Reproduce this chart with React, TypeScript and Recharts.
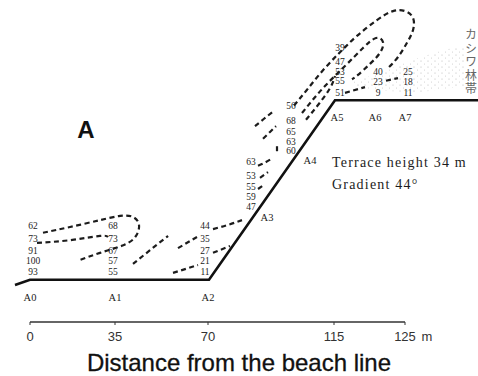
import { ComposedChart, Line, Scatter, Area, XAxis, YAxis, ReferenceLine, ReferenceDot } from 'recharts';

// x is the position along the drawing (the figure is not to scale), h is height in metres
const profileX = [15, 30, 209, 335, 478];
const profileH = [-1, 0, 0, 34, 34];

const distancePos = [30, 115, 208, 334, 405];
const distanceLabels = ['0', '35', '70', '115', '125'];

const stationNames = ['A0', 'A1', 'A2', 'A3', 'A4', 'A5', 'A6', 'A7'];
const stationX = [30, 115, 208, 267, 310, 337, 375, 405];
const stationH = [-3.3, -3.3, -3.3, 11.9, 22.7, 30.8, 30.8, 30.8];

// counts written beside each station, top to bottom
const countX = [33, 113, 205, 251, 291, 340, 378, 408];
const countsA0 = [62, 73, 91, 100, 93];
const countsA1 = [68, 73, 67, 57, 55];
const countsA2 = [44, 35, 27, 21, 11];
const countsA3 = [63, 53, 55, 59, 47];
const countsA4 = [56, 68, 65, 63, 60];
const countsA5 = [39, 47, 53, 55, 51];
const countsA6 = [40, 23, 9];
const countsA7 = [25, 18, 11];
const heightsLow = [10.2, 7.7, 5.6, 3.6, 1.6];
const heightsA3 = [22.3, 19.7, 17.6, 15.7, 13.8];
const heightsA4 = [32.9, 30.1, 28.0, 26.1, 24.4];
const heightsA5 = [43.9, 41.3, 39.5, 37.8, 35.4];
const heightsTop = [39.5, 37.5, 35.4];

// dashed isolines, [x, h]
const loopLowOuter = [[43, 8.9], [70, 10.0], [100, 11.3], [120, 12.1], [133, 11.9], [139, 10.4], [136, 8.3], [124, 6.6], [100, 5.1], [78, 3.6]];
const lineLow73 = [[37, 7.0], [70, 7.5], [100, 8.3], [108, 8.1]];
const lineLowA = [[133, 3.0], [150, 5.6], [168, 8.3]];
const lineLowB = [[178, 6.0], [197, 8.1]];
const lineLowC = [[173, 1.3], [198, 2.8]];
const line44 = [[213, 9.6], [228, 10.4], [242, 11.3]];
const line27 = [[213, 5.1], [230, 6.4]];
const lineMidA = [[255, 29.1], [264, 30.5], [274, 32.0]];
const lineMidB = [[263, 26.7], [270, 28.0], [276, 29.1]];
const lineMidC = [[277, 25.3], [277, 23.8]];
const line63 = [[258, 21.6], [266, 22.3], [273, 23.1]];
const line53 = [[260, 19.3], [268, 20.4]];
const line55 = [[258, 17.2], [265, 18.1]];
const loopTopOuter = [[294, 33.0], [307, 36.0], [323, 39.7], [340, 43.1], [357, 46.2], [377, 49.2], [393, 50.9], [405, 50.9], [413, 49.6], [413, 47.3], [407, 44.9], [398, 42.2], [388, 40.1]];
const loopTopInner = [[302, 31.6], [323, 36.3], [345, 40.5], [363, 43.9], [376, 45.8], [383, 45.0], [380, 43.0], [370, 40.9], [358, 38.8], [352, 38.0]];
const lineTopA = [[306, 30.3], [318, 33.1], [330, 36.3], [335, 38.6]];
const line51 = [[345, 35.4], [365, 36.5]];
const line23 = [[386, 37.7], [398, 38.2]];

const isolines = [loopLowOuter, lineLow73, lineLowA, lineLowB, lineLowC, line44, line27, lineMidA, lineMidB, lineMidC, line63, line53, line55, loopTopOuter, loopTopInner, lineTopA, line51, line23];

// oak forest band (stippled)
const forestX = [352, 385, 415, 445, 464];
const forestLow = [36.6, 35.8, 35.4, 36.2, 36.6];
const forestHigh = [37.4, 39.6, 41.8, 43.6, 44.2];

const serif = '"Liberation Serif", "DejaVu Serif", serif';
const sans = '"Liberation Sans", Arial, sans-serif';
const ink = '#1c1c1c';

const profileData = profileX.map((x, i) => ({ x, h: profileH[i] }));
const stationData = stationNames.map((name, i) => ({ x: stationX[i], h: stationH[i], name }));
const countCols = [
  [countsA0, heightsLow], [countsA1, heightsLow], [countsA2, heightsLow], [countsA3, heightsA3],
  [countsA4, heightsA4], [countsA5, heightsA5], [countsA6, heightsTop], [countsA7, heightsTop],
];
const countData = countCols.flatMap(([vals, hs], i) => vals.map((v, j) => ({ x: countX[i], h: hs[j], v })));
const forestData = forestX.map((x, i) => ({ x, range: [forestLow[i], forestHigh[i]] }));

const CountText = (p: any) => (
  <text x={p.cx} y={p.cy} dy="0.35em" textAnchor="middle" fontSize={9.5} fontFamily={serif} fill={ink}>{p.payload.v}</text>
);
const StationText = (p: any) => (
  <text x={p.cx} y={p.cy} dy="0.35em" textAnchor="middle" fontSize={10.5} fontFamily={serif} fill={ink}>{p.payload.name}</text>
);

const DistanceTick = (p: any) => {
  const i = distancePos.indexOf(p.payload.value);
  return (
    <g>
      <text x={p.x} y={p.y} dy="0.71em" textAnchor="middle" fontSize={13} fontFamily={sans} fill="#333">{distanceLabels[i]}</text>
      {i === distancePos.length - 1 && (
        <text x={p.x + 22} y={p.y} dy="0.71em" textAnchor="middle" fontSize={13} fontFamily={sans} fill="#333">m</text>
      )}
    </g>
  );
};

export default function App() {
  return (
    <div style={{ position: 'absolute', left: 0, top: 0, background: '#fff' }}>
      <ComposedChart width={478} height={376} margin={{ top: 0, right: 0, bottom: 0, left: 0 }}>
        <defs>
          <pattern id="stipple" width="7" height="6" patternUnits="userSpaceOnUse">
            <circle cx="1" cy="1" r="0.55" fill="#b4b4b4" />
            <circle cx="4.5" cy="4" r="0.5" fill="#c4c4c4" />
          </pattern>
        </defs>
        <XAxis
          type="number"
          dataKey="x"
          domain={[0, 478]}
          allowDataOverflow
          ticks={distancePos}
          interval={0}
          axisLine={false}
          tickLine={{ stroke: '#333' }}
          tickSize={3}
          tickMargin={7}
          tick={<DistanceTick />}
          height={54}
          label={{ value: 'Distance from the beach line', position: 'insideBottom', offset: 5, fontSize: 24, fontFamily: sans, fill: '#111', stroke: '#111', strokeWidth: 0.3 }}
        />
        <YAxis type="number" dataKey="h" domain={[-8, 53]} allowDataOverflow hide />
        <ReferenceLine segment={[{ x: 30, y: -8 }, { x: 405, y: -8 }]} stroke="#333" strokeWidth={1.3} />
        <Area data={forestData} dataKey="range" type="linear" stroke="none" fill="url(#stipple)" fillOpacity={1} isAnimationActive={false} />
        {isolines.map((pts, i) => (
          <Line
            key={i}
            data={pts.map(([x, h]) => ({ x, h }))}
            dataKey="h"
            type="natural"
            stroke={ink}
            strokeWidth={2.2}
            strokeDasharray="5 3.5"
            dot={false}
            activeDot={false}
            isAnimationActive={false}
          />
        ))}
        <Line data={profileData} dataKey="h" type="linear" stroke="#111" strokeWidth={2.6} dot={false} activeDot={false} isAnimationActive={false} />
        <Scatter data={countData} dataKey="h" shape={CountText} isAnimationActive={false} />
        <Scatter data={stationData} dataKey="h" shape={StationText} isAnimationActive={false} />
        <ReferenceDot x={86} y={28.4} r={0} shape={(p: any) => (
          <text x={p.cx} y={p.cy} dy="0.35em" textAnchor="middle" fontSize={24} fontWeight="bold" fontFamily={sans} fill="#111">A</text>
        )} />
        <ReferenceDot x={332} y={22.3} r={0} shape={(p: any) => (
          <text x={p.cx} y={p.cy} dy="0.35em" fontSize={14} letterSpacing={1.2} fontFamily={serif} fill={ink}>Terrace height 34 m</text>
        )} />
        <ReferenceDot x={332} y={18.1} r={0} shape={(p: any) => (
          <text x={p.cx} y={p.cy} dy="0.35em" fontSize={14} letterSpacing={1.2} fontFamily={serif} fill={ink}>Gradient 44°</text>
        )} />
        <ReferenceDot x={471} y={47.6} r={0} shape={(p: any) => (
          <text x={p.cx} y={p.cy} fontSize={12} letterSpacing={1.5} fontFamily='"Noto Sans CJK JP", sans-serif' fill="#666" style={{ writingMode: 'vertical-rl' }}>カシワ林帯</text>
        )} />
      </ComposedChart>
    </div>
  );
}
